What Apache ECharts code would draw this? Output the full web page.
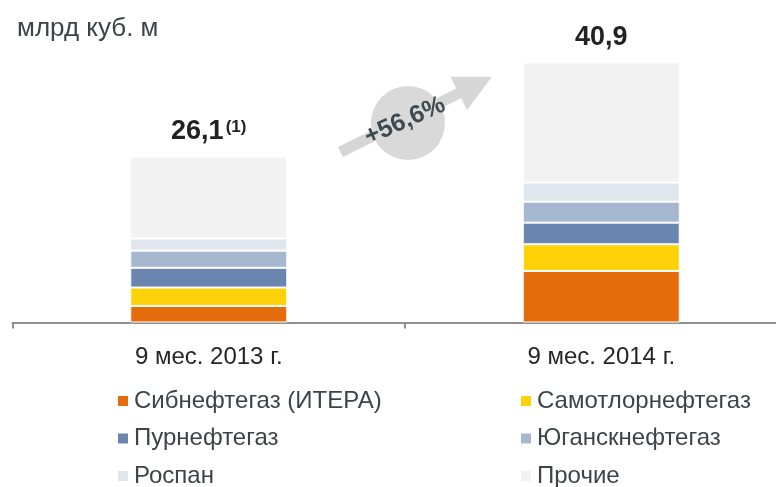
<!DOCTYPE html>
<html>
<head>
<meta charset="utf-8">
<script src="https://cdn.jsdelivr.net/npm/echarts@6/dist/echarts.min.js"></script>
<style>
  html, body { margin: 0; padding: 0; background: #fff; }
  #chart { width: 776px; height: 487px; }
</style>
</head>
<body>
<div id="chart"></div>
<script>
var categories = ['9 мес. 2013 г.', '9 мес. 2014 г.'];
var seriesNames = ['Сибнефтегаз (ИТЕРА)', 'Самотлорнефтегаз', 'Пурнефтегаз', 'Юганскнефтегаз', 'Роспан', 'Прочие'];
var sibneftegaz = [2.6, 8.1];
var samotlor = [2.9, 4.2];
var purneftegaz = [3.1, 3.4];
var yugansk = [2.7, 3.3];
var rospan = [1.9, 3.0];
var other = [12.9, 18.9];
var totals = ['26,1', '40,9'];
var totalNotes = ['(1)', ''];
var growth = '+56,6%';

var colors = ['#e46c0a', '#fed208', '#6a86b0', '#a6b8cf', '#dfe6ee', '#f2f2f2'];
var values = [sibneftegaz, samotlor, purneftegaz, yugansk, rospan, other];
var font = '"Liberation Sans", Arial, sans-serif';

var c = echarts.init(document.getElementById('chart'));

var series = values.map(function (v, i) {
  var s = {
    name: seriesNames[i],
    type: 'bar',
    stack: 'total',
    barWidth: '40%',
    data: v,
    itemStyle: { color: colors[i], borderColor: '#fff', borderWidth: 1 }
  };
  if (i === values.length - 1) {
    s.label = {
      show: true,
      position: 'top',
      distance: 11,
      formatter: function (p) {
        var n = totalNotes[p.dataIndex];
        return '{v|' + totals[p.dataIndex] + '}' + (n ? '{s|' + n + '}' : '');
      },
      rich: {
        v: { fontFamily: font, fontSize: 27, fontWeight: 'bold', color: '#222' },
        s: { fontFamily: font, fontSize: 17, fontWeight: 'bold', color: '#222', verticalAlign: 'top', padding: [0, 0, 9, 2] }
      }
    };
  }
  return s;
});

// arrow geometry (decoration)
var ax = 340.5, ay = 152, ang = 26.4 * Math.PI / 180;
var dx = Math.cos(ang), dy = -Math.sin(ang), nx = Math.sin(ang), ny = Math.cos(ang);
function pt(a, p) { return [ax + dx * a + nx * p, ay + dy * a + ny * p]; }
var arrowPts = [pt(0, -5.5), pt(132, -5.5), pt(132, -18.5), pt(169, 0), pt(132, 18.5), pt(132, 5.5), pt(0, 5.5)];

var legendBase = {
  orient: 'vertical', top: 389, height: 110, padding: 0,
  icon: 'rect', itemWidth: 10, itemHeight: 10, itemGap: 13.5, itemStyle: { borderWidth: 0 },
  textStyle: { fontFamily: font, fontSize: 24, color: '#3c4448', padding: [0, 0, 0, 1] }
};

c.setOption({
  animation: false,
  grid: { left: 12.5, width: 785, top: 36.3, bottom: 164.5, outerBoundsMode: 'none', containLabel: false },
  xAxis: {
    type: 'category',
    data: categories,
    axisLine: { lineStyle: { color: '#8c9090', width: 2 } },
    axisTick: { show: true, length: 6, lineStyle: { color: '#8c9090', width: 2 } },
    axisLabel: { fontFamily: font, fontSize: 24, color: '#262626', margin: 23 }
  },
  yAxis: { type: 'value', min: 0, max: 45, show: false, splitLine: { show: false } },
  legend: [
    Object.assign({ data: [seriesNames[0], seriesNames[2], seriesNames[4]], left: 118 }, legendBase),
    Object.assign({ data: [seriesNames[1], seriesNames[3], seriesNames[5]], left: 521 }, legendBase)
  ],
  graphic: [
    { type: 'text', left: 17, top: 16, style: { text: 'млрд куб. м', fontFamily: font, fontSize: 26, fill: '#3c4448' } },
    { type: 'polygon', shape: { points: arrowPts }, style: { fill: '#d6d6d6' } },
    { type: 'circle', shape: { cx: 408, cy: 123, r: 37 }, style: { fill: '#d9d9d9' } },
    {
      type: 'text', x: 405, y: 121, rotation: 24 * Math.PI / 180,
      style: { text: growth, fontFamily: font, fontSize: 25, fontWeight: 'bold', fill: '#3d4a4f', align: 'center', verticalAlign: 'middle' }
    }
  ],
  series: series
});
window.addEventListener('resize', function () { c.resize(); });
</script>
</body>
</html>
